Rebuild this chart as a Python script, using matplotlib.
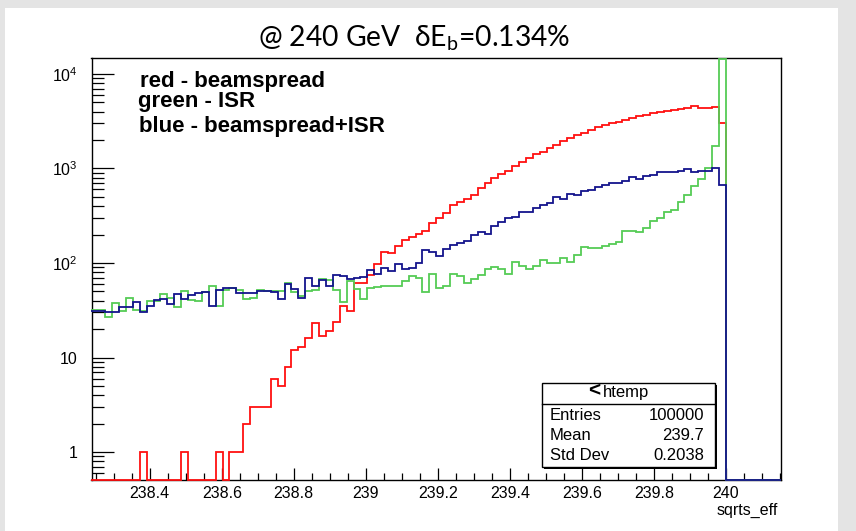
import numpy as np
import matplotlib
matplotlib.use("Agg")
import matplotlib.pyplot as plt
from matplotlib.patches import Rectangle
from matplotlib.ticker import FixedLocator, FixedFormatter, MultipleLocator, LogLocator, NullFormatter

# ---------------- data ----------------
x_min = 238.2382
bin_width = 0.01915
n_bins = 100

red_counts = [0, 0, 0, 0, 0, 0, 0, 1, 0, 0,
              0, 0, 0, 1, 0, 0, 0, 0, 1, 0,
              1, 1, 2, 3, 3, 3, 6, 5, 8, 12,
              13, 16, 23, 17, 19, 24, 35, 31, 61, 62,
              74, 97, 131, 128, 150, 175, 190, 205, 220, 262,
              296, 335, 408, 445, 475, 525, 616, 707, 800, 873,
              940, 1050, 1160, 1280, 1420, 1480, 1630, 1770, 1960, 2120,
              2260, 2350, 2570, 2770, 2880, 3000, 3130, 3260, 3390, 3600,
              3680, 3840, 3990, 4070, 4160, 4260, 4330, 4520, 4410, 4330,
              4450, 3000, 0, 0, 0, 0, 0, 0, 0, 0]

green_counts = [32, 32, 27, 38, 31, 43, 32, 31, 40, 40,
                47, 43, 34, 51, 41, 40, 49, 57, 35, 52,
                55, 52, 42, 43, 52, 50, 50, 51, 62, 49,
                45, 50, 52, 67, 66, 52, 39, 65, 53, 42,
                55, 56, 57, 57, 57, 65, 73, 70, 49, 77,
                54, 57, 77, 73, 61, 68, 74, 86, 91, 86,
                77, 103, 94, 87, 94, 107, 101, 99, 112, 103,
                121, 149, 144, 144, 150, 157, 165, 218, 218, 214,
                236, 277, 296, 350, 363, 440, 530, 645, 780, 1000,
                1720, 14300, 0, 0, 0, 0, 0, 0, 0, 0]

blue_counts = [31, 31, 30, 30, 34, 34, 39, 30, 35, 41,
               42, 37, 47, 42, 46, 48, 49, 35, 52, 54,
               55, 48, 48, 48, 50, 50, 49, 42, 60, 53,
               43, 69, 57, 66, 57, 74, 73, 67, 70, 71,
               85, 77, 88, 82, 98, 87, 89, 101, 137, 131,
               118, 139, 155, 161, 170, 197, 214, 202, 248, 273,
               296, 309, 343, 349, 380, 408, 427, 503, 475, 532,
               524, 576, 585, 641, 668, 707, 710, 736, 819, 773,
               839, 852, 925, 925, 925, 948, 980, 910, 940, 940,
               1000, 668, 0, 0, 0, 0, 0, 0, 0, 0]

x_ticks = [238.4, 238.6, 238.8, 239.0, 239.2, 239.4, 239.6, 239.8, 240.0]
x_tick_labels = ["238.4", "238.6", "238.8", "239", "239.2", "239.4", "239.6", "239.8", "240"]
y_ticks = [1, 10, 100, 1000, 10000]
y_tick_labels = ["1", "10", "$10^{2}$", "$10^{3}$", "$10^{4}$"]

legend_lines = ["red - beamspread", "green - ISR", "blue - beamspread+ISR"]
stats_title = "htemp"
stats_rows = [("Entries", "100000"), ("Mean", "239.7"), ("Std Dev", "0.2038")]
title_text = "@ 240 GeV  δE$_{\\mathregular{b}}$=0.134%"
x_label = "sqrts_eff"

# ---------------- figure ----------------
W, H = 856, 531
plt.rcParams["font.family"] = ["Liberation Sans", "DejaVu Sans"]
plt.rcParams["mathtext.default"] = "regular"
fig = plt.figure(figsize=(W / 100, H / 100), dpi=100, facecolor="#e4e4e4")

def fx(x):
    return x / W

def fy(y):
    return 1 - y / H

# white canvas (behind everything)
fig.patches.append(Rectangle((fx(5), 0), fx(838) - fx(5), fy(8), transform=fig.transFigure,
                             facecolor="white", edgecolor="none", zorder=-10))

L, R, T, B = 91.5, 781, 57.5, 479.5
ax = fig.add_axes([fx(L), fy(B), fx(R) - fx(L), fy(T) - fy(B)])
ax.set_facecolor("white")

edges = x_min + bin_width * np.arange(n_bins + 1)
y_lo, y_hi = 0.514, 14900

for counts, col in [(red_counts, "#ff1010"), (green_counts, "#55cc55"), (blue_counts, "#14148c")]:
    c = np.asarray(counts, dtype=float)
    c = np.where(c > 0, c, y_lo)
    ax.stairs(c, edges, baseline=None, color=col, lw=1.3, clip_on=False, zorder=3)

ax.set_yscale("log")
ax.set_xlim(edges[0], edges[-1])
ax.set_ylim(y_lo, y_hi)

ax.yaxis.set_major_locator(FixedLocator(y_ticks))
ax.yaxis.set_major_formatter(FixedFormatter(y_tick_labels))
ax.yaxis.set_minor_locator(LogLocator(base=10, subs=np.arange(2, 10)))
ax.yaxis.set_minor_formatter(NullFormatter())
ax.xaxis.set_major_locator(FixedLocator(x_ticks))
ax.xaxis.set_major_formatter(FixedFormatter(x_tick_labels))
ax.xaxis.set_minor_locator(MultipleLocator(0.05))

ax.tick_params(axis="y", which="major", direction="in", length=15.5, width=0.9, pad=10, labelsize=11.5)
ax.tick_params(axis="y", which="minor", direction="in", length=8.4, width=0.9)
ax.tick_params(axis="x", which="major", direction="in", length=9, width=0.9, pad=5, labelsize=11.5)
ax.tick_params(axis="x", which="minor", direction="in", length=4.8, width=0.9)
for s in ax.spines.values():
    s.set_linewidth(1.0)

# x label
fig.text(fx(778), fy(510), x_label, ha="right", va="center", fontsize=11.5)

# title
fig.text(fx(414), fy(38), title_text, ha="center", va="center", fontsize=20.3,
         family=["Lato", "DejaVu Sans"])

# legend-like text
leg_pos = [(140, 81.5), (138, 101.5), (139, 126.5)]
for txt, (px, py) in zip(legend_lines, leg_pos):
    fig.text(fx(px), fy(py), txt, ha="left", va="center", fontsize=16, fontweight="bold")

# stats box
bx0, bx1, by0, by1, bsep = 541.5, 714.5, 383, 466.5, 404
fig.patches.append(Rectangle((fx(bx0 + 2), fy(by1 + 2)), fx(bx1 - bx0), fy(by0) - fy(by1),
                             transform=fig.transFigure, facecolor="black", edgecolor="none", zorder=5))
fig.patches.append(Rectangle((fx(bx0), fy(by1)), fx(bx1 - bx0), fy(by0) - fy(by1),
                             transform=fig.transFigure, facecolor="white", edgecolor="black", lw=1.0, zorder=6))
fig.add_artist(plt.Line2D([fx(bx0), fx(bx1)], [fy(bsep), fy(bsep)], transform=fig.transFigure,
                          color="black", lw=1.0, zorder=7))
fig.text(fx(600), fy(391), "<", ha="right", va="center", fontsize=15, fontweight="bold", zorder=8)
fig.text(fx(603), fy(393), stats_title, ha="left", va="center", fontsize=12, zorder=8)
row_y = [415, 435, 455]
for (lab, val), ry in zip(stats_rows, row_y):
    fig.text(fx(550), fy(ry), lab, ha="left", va="center", fontsize=12, zorder=8)
    fig.text(fx(704), fy(ry), val, ha="right", va="center", fontsize=12, zorder=8)

fig.savefig("out.png", dpi=100, facecolor=fig.get_facecolor())
